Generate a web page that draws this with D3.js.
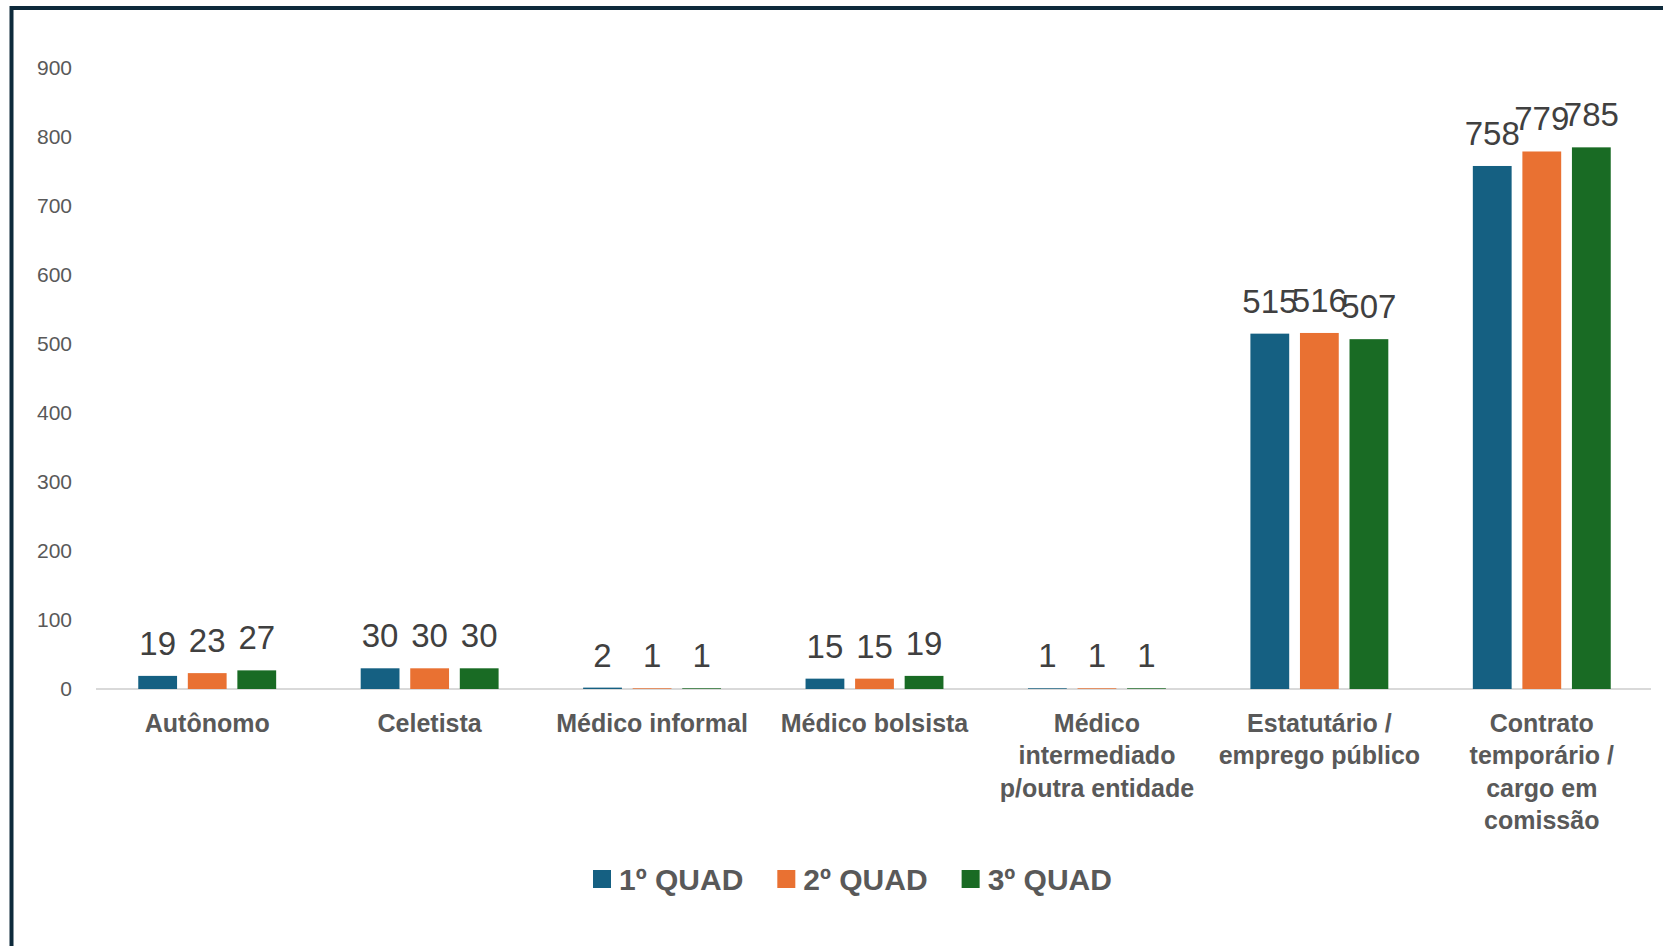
<!DOCTYPE html>
<html>
<head>
<meta charset="utf-8">
<title>Vínculos por quadrimestre</title>
<script src="https://d3js.org/d3.v7.min.js"></script>
<style>
body {
	margin: 0;
	background: #fff;
}
svg text {
	font-family: "Liberation Sans", Arial, sans-serif;
}
.y-axis path, .x-axis path, .y-axis line, .x-axis line {
	display: none;
}
.y-axis text {
	font-size: 21px;
	fill: #595959;
}
.x-axis text {
	font-size: 25px;
	font-weight: bold;
	fill: #595959;
}
.value {
	font-size: 33px;
	fill: #404040;
}
.legend text {
	font-size: 30px;
	font-weight: bold;
	fill: #595959;
}
</style>
</head>
<body>
<svg id="chart" width="1663" height="946"></svg>
<script>
// categorias (quebras de linha como no gráfico original)
var categories = [
	"Autônomo",
	"Celetista",
	"Médico informal",
	"Médico bolsista",
	"Médico\nintermediado\np/outra entidade",
	"Estatutário /\nemprego público",
	"Contrato\ntemporário /\ncargo em\ncomissão"
];

var seriesNames = ["1º QUAD", "2º QUAD", "3º QUAD"];

var quad1 = [19, 30, 2, 15, 1, 515, 758];
var quad2 = [23, 30, 1, 15, 1, 516, 779];
var quad3 = [27, 30, 1, 19, 1, 507, 785];

var yTicks = [0, 100, 200, 300, 400, 500, 600, 700, 800, 900];

var colors = ["#156082", "#E97132", "#196B24"];

var series = [quad1, quad2, quad3];

var svg = d3.select("#chart"),
	margin = {top: 68, right: 10, bottom: 257, left: 96},
	width = +svg.attr("width"),
	height = +svg.attr("height");

// moldura escura (cortada à direita e embaixo)
svg.append("rect")
	.attr("x", 11.5)
	.attr("y", 8)
	.attr("width", width + 20)
	.attr("height", height + 20)
	.attr("fill", "none")
	.attr("stroke", "#0e2a3b")
	.attr("stroke-width", 4);

var x0 = d3.scaleBand()
	.domain(categories)
	.range([margin.left, width - margin.right])
	.paddingInner(0.38)
	.paddingOuter(0.19);

var x1 = d3.scaleBand()
	.domain(seriesNames)
	.range([0, x0.bandwidth()])
	.paddingInner(0.217);

var y = d3.scaleLinear()
	.domain([0, 900])
	.range([height - margin.bottom, margin.top]);

var z = d3.scaleOrdinal().domain(seriesNames).range(colors);

// eixo y (só rótulos)
svg.append("g")
	.attr("class", "y-axis")
	.attr("transform", "translate(72,0)")
	.call(d3.axisLeft(y).tickValues(yTicks).tickSize(0).tickPadding(0));

// linha de base
svg.append("line")
	.attr("x1", margin.left)
	.attr("x2", 1651)
	.attr("y1", y(0))
	.attr("y2", y(0))
	.attr("stroke", "#d9d9d9")
	.attr("stroke-width", 2);

// eixo x com rótulos em várias linhas
var xAxis = svg.append("g")
	.attr("class", "x-axis")
	.attr("transform", "translate(0," + y(0) + ")")
	.call(d3.axisBottom(x0).tickSize(0));

xAxis.selectAll(".tick text").each(function(d) {
	var t = d3.select(this).text(null).attr("dy", null).attr("y", null);
	d.split("\n").forEach(function(line, i) {
		t.append("tspan")
			.attr("x", 0)
			.attr("y", 43 + i * 32.4)
			.text(line);
	});
});

var rows = categories.map(function(c, i) {
	return {
		cat: c,
		values: seriesNames.map(function(s, j) {
			return {key: s, value: series[j][i]};
		})
	};
});

var groups = svg.append("g").selectAll("g")
	.data(rows)
	.join("g")
	.attr("transform", d => "translate(" + x0(d.cat) + ",0)");

groups.selectAll("rect")
	.data(d => d.values)
	.join("rect")
	.attr("x", d => x1(d.key))
	.attr("y", d => y(d.value))
	.attr("width", x1.bandwidth())
	.attr("height", d => y(0) - y(d.value))
	.attr("fill", d => z(d.key));

groups.selectAll("text.value")
	.data(d => d.values)
	.join("text")
	.attr("class", "value")
	.attr("text-anchor", "middle")
	.attr("x", d => x1(d.key) + x1.bandwidth() / 2)
	.attr("y", d => y(d.value) - 21)
	.text(d => d.value);

// legenda
var legend = svg.append("g")
	.attr("class", "legend")
	.attr("transform", "translate(593,879)");

var lx = 0;
seriesNames.forEach(function(name) {
	var item = legend.append("g").attr("transform", "translate(" + lx + ",0)");
	item.append("rect")
		.attr("x", 0)
		.attr("y", -9)
		.attr("width", 18)
		.attr("height", 18)
		.attr("fill", z(name));
	var txt = item.append("text")
		.attr("x", 26)
		.attr("y", 11)
		.text(name);
	lx += 26 + txt.node().getComputedTextLength() + 34;
});
</script>
</body>
</html>
